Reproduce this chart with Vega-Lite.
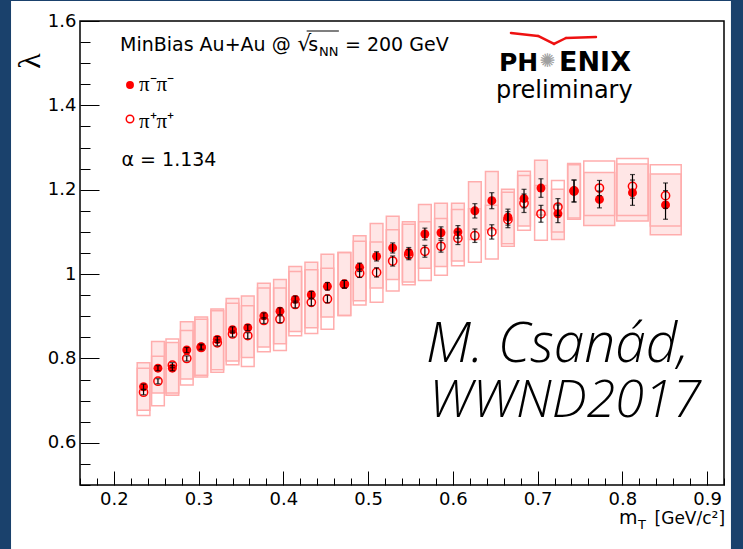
{
  "$schema": "https://vega.github.io/schema/vega-lite/v6.json",
  "width": 644,
  "height": 464,
  "autosize": {"type": "none"},
  "padding": {"left": 80, "top": 21, "right": 19, "bottom": 64},
  "background": "white",
  "config": {"view": {"stroke": "black", "strokeWidth": 1.5}, "font": "DejaVu Sans"},
  "resolve": {"axis": {"x": "independent", "y": "independent"}},
  "datasets": {
    "pts": [
      {"mt":0.235,"pair":"pim","lam":0.733,"slo":0.677,"shi":0.790,"elo":0.727,"ehi":0.739,"xlo":0.2275,"xhi":0.2425},
      {"mt":0.252,"pair":"pim","lam":0.777,"slo":0.718,"shi":0.840,"elo":0.771,"ehi":0.783,"xlo":0.2445,"xhi":0.2595},
      {"mt":0.269,"pair":"pim","lam":0.777,"slo":0.713,"shi":0.838,"elo":0.771,"ehi":0.783,"xlo":0.2615,"xhi":0.2765},
      {"mt":0.286,"pair":"pim","lam":0.820,"slo":0.751,"shi":0.887,"elo":0.814,"ehi":0.826,"xlo":0.2785,"xhi":0.2935},
      {"mt":0.303,"pair":"pim","lam":0.828,"slo":0.760,"shi":0.898,"elo":0.822,"ehi":0.834,"xlo":0.2955,"xhi":0.3105},
      {"mt":0.322,"pair":"pim","lam":0.845,"slo":0.773,"shi":0.917,"elo":0.838,"ehi":0.852,"xlo":0.3145,"xhi":0.3295},
      {"mt":0.340,"pair":"pim","lam":0.868,"slo":0.794,"shi":0.942,"elo":0.861,"ehi":0.875,"xlo":0.3325,"xhi":0.3475},
      {"mt":0.358,"pair":"pim","lam":0.873,"slo":0.802,"shi":0.948,"elo":0.866,"ehi":0.880,"xlo":0.3505,"xhi":0.3655},
      {"mt":0.377,"pair":"pim","lam":0.901,"slo":0.827,"shi":0.978,"elo":0.894,"ehi":0.908,"xlo":0.3695,"xhi":0.3845},
      {"mt":0.396,"pair":"pim","lam":0.912,"slo":0.835,"shi":0.987,"elo":0.904,"ehi":0.920,"xlo":0.3885,"xhi":0.4035},
      {"mt":0.414,"pair":"pim","lam":0.940,"slo":0.864,"shi":1.018,"elo":0.932,"ehi":0.948,"xlo":0.4065,"xhi":0.4215},
      {"mt":0.433,"pair":"pim","lam":0.951,"slo":0.873,"shi":1.028,"elo":0.943,"ehi":0.959,"xlo":0.4255,"xhi":0.4405},
      {"mt":0.452,"pair":"pim","lam":0.971,"slo":0.898,"shi":1.047,"elo":0.962,"ehi":0.980,"xlo":0.4445,"xhi":0.4595},
      {"mt":0.472,"pair":"pim","lam":0.976,"slo":0.902,"shi":1.051,"elo":0.967,"ehi":0.985,"xlo":0.4645,"xhi":0.4795},
      {"mt":0.490,"pair":"pim","lam":1.016,"slo":0.937,"shi":1.091,"elo":1.006,"ehi":1.026,"xlo":0.4825,"xhi":0.4975},
      {"mt":0.510,"pair":"pim","lam":1.042,"slo":0.967,"shi":1.120,"elo":1.031,"ehi":1.053,"xlo":0.5025,"xhi":0.5175},
      {"mt":0.529,"pair":"pim","lam":1.062,"slo":0.987,"shi":1.137,"elo":1.050,"ehi":1.074,"xlo":0.5215,"xhi":0.5365},
      {"mt":0.548,"pair":"pim","lam":1.051,"slo":0.981,"shi":1.124,"elo":1.039,"ehi":1.063,"xlo":0.5405,"xhi":0.5555},
      {"mt":0.567,"pair":"pim","lam":1.095,"slo":1.014,"shi":1.165,"elo":1.081,"ehi":1.109,"xlo":0.5595,"xhi":0.5745},
      {"mt":0.586,"pair":"pim","lam":1.098,"slo":1.018,"shi":1.168,"elo":1.084,"ehi":1.112,"xlo":0.5785,"xhi":0.5935},
      {"mt":0.606,"pair":"pim","lam":1.100,"slo":1.031,"shi":1.168,"elo":1.085,"ehi":1.115,"xlo":0.5985,"xhi":0.6135},
      {"mt":0.626,"pair":"pim","lam":1.150,"slo":1.082,"shi":1.219,"elo":1.133,"ehi":1.167,"xlo":0.6185,"xhi":0.6335},
      {"mt":0.646,"pair":"pim","lam":1.174,"slo":1.105,"shi":1.243,"elo":1.155,"ehi":1.193,"xlo":0.6385,"xhi":0.6535},
      {"mt":0.665,"pair":"pim","lam":1.135,"slo":1.072,"shi":1.201,"elo":1.116,"ehi":1.154,"xlo":0.6575,"xhi":0.6725},
      {"mt":0.684,"pair":"pim","lam":1.179,"slo":1.114,"shi":1.244,"elo":1.157,"ehi":1.201,"xlo":0.6765,"xhi":0.6915},
      {"mt":0.704,"pair":"pim","lam":1.204,"slo":1.140,"shi":1.270,"elo":1.182,"ehi":1.226,"xlo":0.6965,"xhi":0.7115},
      {"mt":0.724,"pair":"pim","lam":1.143,"slo":1.082,"shi":1.201,"elo":1.122,"ehi":1.164,"xlo":0.7165,"xhi":0.7315},
      {"mt":0.743,"pair":"pim","lam":1.197,"slo":1.133,"shi":1.262,"elo":1.171,"ehi":1.223,"xlo":0.7355,"xhi":0.7505},
      {"mt":0.773,"pair":"pim","lam":1.177,"slo":1.115,"shi":1.241,"elo":1.157,"ehi":1.197,"xlo":0.7545,"xhi":0.7910},
      {"mt":0.812,"pair":"pim","lam":1.193,"slo":1.126,"shi":1.261,"elo":1.163,"ehi":1.223,"xlo":0.7935,"xhi":0.8305},
      {"mt":0.851,"pair":"pim","lam":1.164,"slo":1.093,"shi":1.237,"elo":1.130,"ehi":1.198,"xlo":0.8330,"xhi":0.8695},
      {"mt":0.235,"pair":"pip","lam":0.720,"slo":0.665,"shi":0.777,"elo":0.714,"ehi":0.726,"xlo":0.2275,"xhi":0.2425},
      {"mt":0.252,"pair":"pip","lam":0.746,"slo":0.688,"shi":0.805,"elo":0.740,"ehi":0.752,"xlo":0.2445,"xhi":0.2595},
      {"mt":0.269,"pair":"pip","lam":0.784,"slo":0.718,"shi":0.846,"elo":0.778,"ehi":0.790,"xlo":0.2615,"xhi":0.2765},
      {"mt":0.286,"pair":"pip","lam":0.800,"slo":0.737,"shi":0.866,"elo":0.794,"ehi":0.806,"xlo":0.2785,"xhi":0.2935},
      {"mt":0.303,"pair":"pip","lam":0.826,"slo":0.756,"shi":0.893,"elo":0.820,"ehi":0.832,"xlo":0.2955,"xhi":0.3105},
      {"mt":0.322,"pair":"pip","lam":0.837,"slo":0.767,"shi":0.913,"elo":0.830,"ehi":0.844,"xlo":0.3145,"xhi":0.3295},
      {"mt":0.340,"pair":"pip","lam":0.858,"slo":0.785,"shi":0.931,"elo":0.851,"ehi":0.865,"xlo":0.3325,"xhi":0.3475},
      {"mt":0.358,"pair":"pip","lam":0.854,"slo":0.781,"shi":0.925,"elo":0.847,"ehi":0.861,"xlo":0.3505,"xhi":0.3655},
      {"mt":0.377,"pair":"pip","lam":0.890,"slo":0.816,"shi":0.967,"elo":0.883,"ehi":0.897,"xlo":0.3695,"xhi":0.3845},
      {"mt":0.396,"pair":"pip","lam":0.893,"slo":0.819,"shi":0.967,"elo":0.885,"ehi":0.901,"xlo":0.3885,"xhi":0.4035},
      {"mt":0.414,"pair":"pip","lam":0.928,"slo":0.854,"shi":1.006,"elo":0.920,"ehi":0.936,"xlo":0.4065,"xhi":0.4215},
      {"mt":0.433,"pair":"pip","lam":0.933,"slo":0.859,"shi":1.010,"elo":0.925,"ehi":0.941,"xlo":0.4255,"xhi":0.4405},
      {"mt":0.452,"pair":"pip","lam":0.941,"slo":0.869,"shi":1.014,"elo":0.932,"ehi":0.950,"xlo":0.4445,"xhi":0.4595},
      {"mt":0.472,"pair":"pip","lam":0.976,"slo":0.902,"shi":1.051,"elo":0.967,"ehi":0.985,"xlo":0.4645,"xhi":0.4795},
      {"mt":0.490,"pair":"pip","lam":1.002,"slo":0.927,"shi":1.078,"elo":0.992,"ehi":1.012,"xlo":0.4825,"xhi":0.4975},
      {"mt":0.510,"pair":"pip","lam":1.004,"slo":0.933,"shi":1.076,"elo":0.993,"ehi":1.015,"xlo":0.5025,"xhi":0.5175},
      {"mt":0.529,"pair":"pip","lam":1.031,"slo":0.960,"shi":1.105,"elo":1.019,"ehi":1.043,"xlo":0.5215,"xhi":0.5365},
      {"mt":0.548,"pair":"pip","lam":1.046,"slo":0.975,"shi":1.118,"elo":1.034,"ehi":1.058,"xlo":0.5405,"xhi":0.5555},
      {"mt":0.567,"pair":"pip","lam":1.054,"slo":0.985,"shi":1.124,"elo":1.040,"ehi":1.068,"xlo":0.5595,"xhi":0.5745},
      {"mt":0.586,"pair":"pip","lam":1.066,"slo":0.997,"shi":1.132,"elo":1.052,"ehi":1.080,"xlo":0.5785,"xhi":0.5935},
      {"mt":0.606,"pair":"pip","lam":1.085,"slo":1.020,"shi":1.153,"elo":1.070,"ehi":1.100,"xlo":0.5985,"xhi":0.6135},
      {"mt":0.626,"pair":"pip","lam":1.091,"slo":1.028,"shi":1.155,"elo":1.075,"ehi":1.107,"xlo":0.6185,"xhi":0.6335},
      {"mt":0.646,"pair":"pip","lam":1.100,"slo":1.036,"shi":1.163,"elo":1.083,"ehi":1.117,"xlo":0.6385,"xhi":0.6535},
      {"mt":0.665,"pair":"pip","lam":1.129,"slo":1.066,"shi":1.194,"elo":1.110,"ehi":1.148,"xlo":0.6575,"xhi":0.6725},
      {"mt":0.684,"pair":"pip","lam":1.168,"slo":1.104,"shi":1.234,"elo":1.146,"ehi":1.190,"xlo":0.6765,"xhi":0.6915},
      {"mt":0.704,"pair":"pip","lam":1.143,"slo":1.080,"shi":1.210,"elo":1.123,"ehi":1.163,"xlo":0.6965,"xhi":0.7115},
      {"mt":0.724,"pair":"pip","lam":1.159,"slo":1.100,"shi":1.222,"elo":1.139,"ehi":1.179,"xlo":0.7165,"xhi":0.7315},
      {"mt":0.743,"pair":"pip","lam":1.197,"slo":1.130,"shi":1.259,"elo":1.171,"ehi":1.223,"xlo":0.7355,"xhi":0.7505},
      {"mt":0.773,"pair":"pip","lam":1.204,"slo":1.139,"shi":1.268,"elo":1.186,"ehi":1.222,"xlo":0.7545,"xhi":0.7910},
      {"mt":0.812,"pair":"pip","lam":1.208,"slo":1.139,"shi":1.274,"elo":1.180,"ehi":1.236,"xlo":0.7935,"xhi":0.8305},
      {"mt":0.851,"pair":"pip","lam":1.186,"slo":1.114,"shi":1.259,"elo":1.156,"ehi":1.216,"xlo":0.8330,"xhi":0.8695}
    ]
  },
  "layer": [
    {"data": {"values": [{"k": 1}]}, "mark": {"type": "rect", "color": "#1a416c"},
     "encoding": {"x": {"datum": 0.0, "type": "quantitative", "axis": null}, "x2": {"datum": 0.0786},
                  "y": {"datum": 0.3, "type": "quantitative", "axis": null}, "y2": {"datum": 1.7}}},
    {"data": {"values": [{"k": 1}]}, "mark": {"type": "rect", "color": "#1a416c"},
     "encoding": {"x": {"datum": 0.9282, "type": "quantitative", "axis": null}, "x2": {"datum": 1.0},
                  "y": {"datum": 0.3, "type": "quantitative", "axis": null}, "y2": {"datum": 1.7}}},
    {"data": {"values": [{"k": 1}]}, "mark": {"type": "rect", "color": "#1a416c"},
     "encoding": {"x": {"datum": 0.0, "type": "quantitative", "axis": null}, "x2": {"datum": 1.0},
                  "y": {"datum": 1.6474, "type": "quantitative", "axis": null}, "y2": {"datum": 1.7}}},
    {"data": {"name": "pts"}, "transform": [{"filter": "datum.pair == 'pim'"}],
     "mark": {"type": "rect", "fill": "#ffe6e6", "stroke": "#ffadad", "strokeWidth": 1.5},
     "encoding": {"x": {"field": "xlo", "type": "quantitative", "axis": null}, "x2": {"field": "xhi"},
                  "y": {"field": "slo", "type": "quantitative", "axis": null}, "y2": {"field": "shi"}}},
    {"data": {"name": "pts"}, "transform": [{"filter": "datum.pair == 'pip'"}],
     "mark": {"type": "rect", "fill": "white", "fillOpacity": 0, "stroke": "#ffadad", "strokeWidth": 1.5},
     "encoding": {"x": {"field": "xlo", "type": "quantitative", "axis": null}, "x2": {"field": "xhi"},
                  "y": {"field": "slo", "type": "quantitative", "axis": null}, "y2": {"field": "shi"}}},
    {"data": {"name": "pts"}, "transform": [{"filter": "datum.pair == 'pip'"}],
     "mark": {"type": "point", "shape": "circle", "filled": false, "color": "#ff0000", "size": 68, "strokeWidth": 1.5, "opacity": 1},
     "encoding": {
       "x": {
         "field": "mt", "type": "quantitative",
         "scale": {"domain": [0.16, 0.92], "nice": false, "zero": false},
         "axis": {
           "orient": "bottom", "title": null, "grid": false, "domain": false,
           "values": [0.2,0.3,0.4,0.5,0.6,0.7,0.8,0.9],
           "format": ".1f",
           "tickSize": -14, "tickColor": "black", "tickWidth": 1,
           "labelFont": "DejaVu Sans", "labelFontSize": 18, "labelColor": "black",
           "labelPadding": 19, "labelOverlap": false, "labelFlush": false, "labelBound": false
         }
       },
       "y": {
         "field": "lam", "type": "quantitative",
         "scale": {"domain": [0.5, 1.6], "nice": false, "zero": false},
         "axis": {
           "orient": "left", "title": null, "grid": false, "domain": false,
           "values": [0.6,0.8,1,1.2,1.4,1.6],
           "format": ".1~f",
           "tickSize": -19, "tickColor": "black", "tickWidth": 1,
           "labelFont": "DejaVu Sans", "labelFontSize": 18, "labelColor": "black",
           "labelPadding": 23, "labelOverlap": false, "labelFlush": false, "labelBound": false
         }
       }
     }},
    {"data": {"name": "pts"}, "transform": [{"filter": "datum.pair == 'pim'"}],
     "mark": {"type": "point", "shape": "circle", "filled": true, "color": "#ff0000", "size": 80, "opacity": 1},
     "encoding": {
       "x": {"field": "mt", "type": "quantitative",
             "axis": {"orient": "bottom", "title": null, "grid": false, "domain": false, "labels": false,
                      "values": [0.16,0.18,0.22,0.24,0.26,0.28,0.32,0.34,0.36,0.38,0.42,0.44,0.46,0.48,0.52,0.54,0.56,0.58,0.62,0.64,0.66,0.68,0.72,0.74,0.76,0.78,0.82,0.84,0.86,0.88,0.92],
                      "tickSize": -7, "tickColor": "black", "tickWidth": 1}},
       "y": {"field": "lam", "type": "quantitative",
             "axis": {"orient": "left", "title": null, "grid": false, "domain": false, "labels": false,
                      "values": [0.5,0.55,0.65,0.7,0.75,0.85,0.9,0.95,1.05,1.1,1.15,1.25,1.3,1.35,1.45,1.5,1.55],
                      "tickSize": -10, "tickColor": "black", "tickWidth": 1}}
     }},
    {"data": {"name": "pts"},
     "mark": {"type": "errorbar", "color": "black", "ticks": {"size": 5, "color": "black", "thickness": 1.2}, "rule": {"color": "black", "strokeWidth": 1.2}},
     "encoding": {"x": {"field": "mt", "type": "quantitative", "axis": null}, "y": {"field": "elo", "type": "quantitative", "axis": null}, "y2": {"field": "ehi"}}},
    {"data": {"values": [{"k": 1}]}, "mark": {"type": "text", "text": "λ", "font": "Liberation Serif", "fontSize": 32, "angle": -90, "align": "center", "baseline": "middle", "color": "black"},
     "encoding": {"x": {"datum": 0.101, "type": "quantitative", "axis": null}, "y": {"datum": 1.5052, "type": "quantitative", "axis": null}}},
    {"data": {"values": [{"k": 1}]}, "mark": {"type": "text", "text": "MinBias Au+Au @", "fontSize": 19, "align": "left", "baseline": "alphabetic", "color": "black"},
     "encoding": {"x": {"datum": 0.2072, "type": "quantitative", "axis": null}, "y": {"datum": 1.5289, "type": "quantitative", "axis": null}}},
    {"data": {"values": [{"k": 1}]}, "mark": {"type": "text", "text": "√", "fontSize": 22, "align": "left", "baseline": "alphabetic", "color": "black"},
     "encoding": {"x": {"datum": 0.4163, "type": "quantitative", "axis": null}, "y": {"datum": 1.5289, "type": "quantitative", "axis": null}}},
    {"data": {"values": [{"k": 1}]}, "mark": {"type": "text", "text": "s", "fontSize": 19, "align": "left", "baseline": "alphabetic", "color": "black"},
     "encoding": {"x": {"datum": 0.4295, "type": "quantitative", "axis": null}, "y": {"datum": 1.5289, "type": "quantitative", "axis": null}}},
    {"data": {"values": [{"k": 1}]}, "mark": {"type": "text", "text": "NN", "fontSize": 13, "align": "left", "baseline": "alphabetic", "color": "black"},
     "encoding": {"x": {"datum": 0.4421, "type": "quantitative", "axis": null}, "y": {"datum": 1.517, "type": "quantitative", "axis": null}}},
    {"data": {"values": [{"k": 1}]}, "mark": {"type": "rule", "color": "black", "strokeWidth": 1.2},
     "encoding": {"x": {"datum": 0.4275, "type": "quantitative", "axis": null}, "x2": {"datum": 0.4655}, "y": {"datum": 1.5763, "type": "quantitative", "axis": null}}},
    {"data": {"values": [{"k": 1}]}, "mark": {"type": "text", "text": "= 200 GeV", "fontSize": 19, "align": "left", "baseline": "alphabetic", "color": "black"},
     "encoding": {"x": {"datum": 0.4727, "type": "quantitative", "axis": null}, "y": {"datum": 1.5289, "type": "quantitative", "axis": null}}},
    {"data": {"values": [{"k": 1}]}, "mark": {"type": "point", "shape": "circle", "filled": true, "color": "#ff0000", "size": 62, "opacity": 1},
     "encoding": {"x": {"datum": 0.219, "type": "quantitative", "axis": null}, "y": {"datum": 1.4483, "type": "quantitative", "axis": null}}},
    {"data": {"values": [{"k": 1}]}, "mark": {"type": "point", "shape": "circle", "filled": false, "color": "#ff0000", "size": 56, "strokeWidth": 1.5, "opacity": 1},
     "encoding": {"x": {"datum": 0.219, "type": "quantitative", "axis": null}, "y": {"datum": 1.3677, "type": "quantitative", "axis": null}}},
    {"data": {"values": [{"k": 1}]}, "mark": {"type": "text", "text": "π⁻π⁻", "font": "Liberation Serif", "fontSize": 21, "align": "left", "baseline": "alphabetic", "color": "black"},
     "encoding": {"x": {"datum": 0.2296, "type": "quantitative", "axis": null}, "y": {"datum": 1.434, "type": "quantitative", "axis": null}}},
    {"data": {"values": [{"k": 1}]}, "mark": {"type": "text", "text": "π⁺π⁺", "font": "Liberation Serif", "fontSize": 21, "align": "left", "baseline": "alphabetic", "color": "black"},
     "encoding": {"x": {"datum": 0.2296, "type": "quantitative", "axis": null}, "y": {"datum": 1.3463, "type": "quantitative", "axis": null}}},
    {"data": {"values": [{"k": 1}]}, "mark": {"type": "text", "text": "α = 1.134", "fontSize": 19, "align": "left", "baseline": "alphabetic", "color": "black"},
     "encoding": {"x": {"datum": 0.209, "type": "quantitative", "axis": null}, "y": {"datum": 1.2562, "type": "quantitative", "axis": null}}},
    {"data": {"values": [{"k": 1}]}, "mark": {"type": "text", "text": "PH", "font": "DejaVu Sans", "fontSize": 25, "fontWeight": "bold", "align": "left", "baseline": "alphabetic", "color": "black"},
     "encoding": {"x": {"datum": 0.6545, "type": "quantitative", "axis": null}, "y": {"datum": 1.4815, "type": "quantitative", "axis": null}}},
    {"data": {"values": [{"k": 1}]}, "mark": {"type": "text", "text": "✺", "font": "DejaVu Sans", "fontSize": 19, "align": "center", "baseline": "middle", "color": "#a0a0a0"},
     "encoding": {"x": {"datum": 0.7117, "type": "quantitative", "axis": null}, "y": {"datum": 1.5052, "type": "quantitative", "axis": null}}},
    {"data": {"values": [{"k": 1}]}, "mark": {"type": "text", "text": "ENIX", "font": "DejaVu Sans", "fontSize": 27, "fontWeight": "bold", "align": "right", "baseline": "alphabetic", "color": "black"},
     "encoding": {"x": {"datum": 0.8102, "type": "quantitative", "axis": null}, "y": {"datum": 1.4815, "type": "quantitative", "axis": null}}},
    {"data": {"values": [{"k": 1}]}, "mark": {"type": "text", "text": "preliminary", "font": "DejaVu Sans", "fontSize": 24, "align": "left", "baseline": "alphabetic", "color": "black"},
     "encoding": {"x": {"datum": 0.6509, "type": "quantitative", "axis": null}, "y": {"datum": 1.4174, "type": "quantitative", "axis": null}}},
    {"data": {"values": [{"k": 1}]}, "mark": {"type": "rule", "color": "#ee1111", "strokeWidth": 2.5, "strokeCap": "round"},
     "encoding": {"x": {"datum": 0.6686, "type": "quantitative", "axis": null}, "x2": {"datum": 0.7005}, "y": {"datum": 1.5716, "type": "quantitative", "axis": null}, "y2": {"datum": 1.5645}}},
    {"data": {"values": [{"k": 1}]}, "mark": {"type": "rule", "color": "#ee1111", "strokeWidth": 2.5, "strokeCap": "round"},
     "encoding": {"x": {"datum": 0.7005, "type": "quantitative", "axis": null}, "x2": {"datum": 0.7194}, "y": {"datum": 1.5645, "type": "quantitative", "axis": null}, "y2": {"datum": 1.5455}}},
    {"data": {"values": [{"k": 1}]}, "mark": {"type": "rule", "color": "#ee1111", "strokeWidth": 2.5, "strokeCap": "round"},
     "encoding": {"x": {"datum": 0.7194, "type": "quantitative", "axis": null}, "x2": {"datum": 0.7335}, "y": {"datum": 1.5455, "type": "quantitative", "axis": null}, "y2": {"datum": 1.5597}}},
    {"data": {"values": [{"k": 1}]}, "mark": {"type": "rule", "color": "#ee1111", "strokeWidth": 2.5, "strokeCap": "round"},
     "encoding": {"x": {"datum": 0.7335, "type": "quantitative", "axis": null}, "x2": {"datum": 0.7689}, "y": {"datum": 1.5597, "type": "quantitative", "axis": null}, "y2": {"datum": 1.5621}}},
    {"data": {"values": [{"k": 1}]}, "mark": {"type": "text", "text": "M. Csanád,", "font": "Open Sans", "fontStyle": "italic", "fontWeight": 300, "fontSize": 55, "align": "left", "baseline": "alphabetic", "color": "black"},
     "encoding": {"x": {"datum": 0.5683, "type": "quantitative", "axis": null}, "y": {"datum": 0.7916, "type": "quantitative", "axis": null}}},
    {"data": {"values": [{"k": 1}]}, "mark": {"type": "text", "text": "WWND2017", "font": "Open Sans", "fontStyle": "italic", "fontWeight": 300, "fontSize": 52, "align": "left", "baseline": "alphabetic", "color": "black"},
     "encoding": {"x": {"datum": 0.5718, "type": "quantitative", "axis": null}, "y": {"datum": 0.6612, "type": "quantitative", "axis": null}}},
    {"data": {"values": [{"k": 1}]}, "mark": {"type": "text", "text": "m", "fontSize": 19, "align": "left", "baseline": "alphabetic", "color": "black"},
     "encoding": {"x": {"datum": 0.7961, "type": "quantitative", "axis": null}, "y": {"datum": 0.4075, "type": "quantitative", "axis": null}}},
    {"data": {"values": [{"k": 1}]}, "mark": {"type": "text", "text": "T", "fontSize": 13, "align": "left", "baseline": "alphabetic", "color": "black"},
     "encoding": {"x": {"datum": 0.8185, "type": "quantitative", "axis": null}, "y": {"datum": 0.3956, "type": "quantitative", "axis": null}}},
    {"data": {"values": [{"k": 1}]}, "mark": {"type": "text", "text": "[GeV/c²]", "fontSize": 17, "align": "right", "baseline": "alphabetic", "color": "black"},
     "encoding": {"x": {"datum": 0.9212, "type": "quantitative", "axis": null}, "y": {"datum": 0.4075, "type": "quantitative", "axis": null}}}
  ]
}
